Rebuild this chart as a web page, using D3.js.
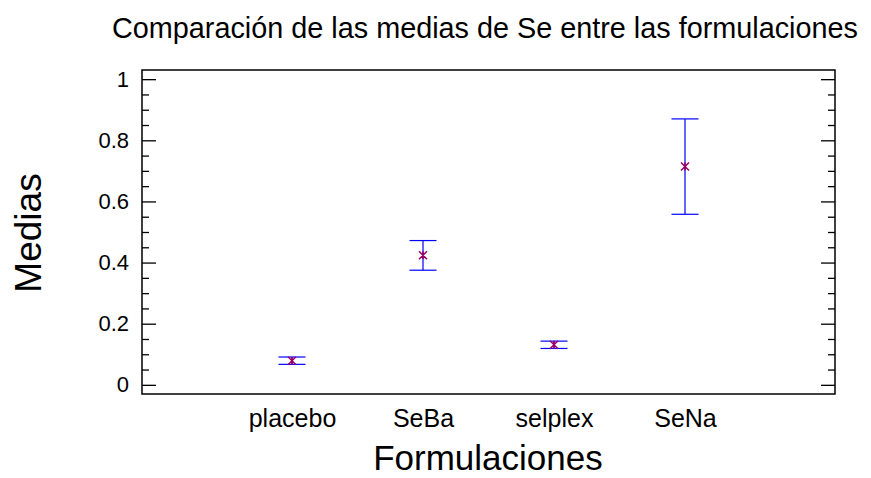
<!DOCTYPE html>
<html>
<head>
<meta charset="utf-8">
<script src="https://cdn.jsdelivr.net/npm/d3@7"></script>
<style>
  html, body { margin: 0; padding: 0; background: #fff; }
  svg { display: block; font-family: Arial, "Liberation Sans", sans-serif; }
</style>
</head>
<body>
<svg id="chart" width="871" height="478"></svg>
<script>
// Mean Se per formulation with its interval limits
const categories = ["placebo", "SeBa", "selplex", "SeNa"];
const means      = [0.079, 0.424, 0.131, 0.714];
const lowerLimit = [0.067, 0.375, 0.119, 0.558];
const upperLimit = [0.091, 0.472, 0.143, 0.870];
const yMajorTicks = [0, 0.2, 0.4, 0.6, 0.8, 1];
const yTickLabels = ["0", "0.2", "0.4", "0.6", "0.8", "1"];

const svg = d3.select("#chart");
const plot = { left: 142, top: 70, right: 835, bottom: 394 };

const x = d3.scaleLinear().domain([-1.145, 4.145]).range([plot.left, plot.right]);
const y = d3.scaleLinear().domain([-0.03, 1.03]).range([plot.bottom, plot.top]);

const yMinorTicks = d3.range(0, 1.0001, 0.05).filter(v => Math.abs(v * 5 - Math.round(v * 5)) > 1e-6);

// Left axis: major ticks with labels, minor ticks without
const leftMajor = svg.append("g")
  .attr("transform", `translate(${plot.left},0)`)
  .call(d3.axisLeft(y).tickValues(yMajorTicks)
    .tickFormat((d, i) => yTickLabels[i]).tickSize(-14).tickPadding(13));
leftMajor.select(".domain").remove();
leftMajor.selectAll("line").attr("stroke", "#000").attr("stroke-width", 1.3);
leftMajor.selectAll("text").attr("font-size", 22).attr("fill", "#000")
  .attr("font-family", "Arial, 'Liberation Sans', sans-serif");

const leftMinor = svg.append("g")
  .attr("transform", `translate(${plot.left},0)`)
  .call(d3.axisLeft(y).tickValues(yMinorTicks).tickFormat("").tickSize(-7));
leftMinor.select(".domain").remove();
leftMinor.selectAll("line").attr("stroke", "#000").attr("stroke-width", 1.3);

// Right axis mirrors the ticks, pointing inward
const rightMajor = svg.append("g")
  .attr("transform", `translate(${plot.right},0)`)
  .call(d3.axisRight(y).tickValues(yMajorTicks).tickFormat("").tickSize(-14));
rightMajor.select(".domain").remove();
rightMajor.selectAll("line").attr("stroke", "#000").attr("stroke-width", 1.3);

const rightMinor = svg.append("g")
  .attr("transform", `translate(${plot.right},0)`)
  .call(d3.axisRight(y).tickValues(yMinorTicks).tickFormat("").tickSize(-7));
rightMinor.select(".domain").remove();
rightMinor.selectAll("line").attr("stroke", "#000").attr("stroke-width", 1.3);

// Category labels along the bottom
const bottom = svg.append("g")
  .attr("transform", `translate(0,${plot.bottom})`)
  .call(d3.axisBottom(x).tickValues(d3.range(categories.length))
    .tickFormat(i => categories[i]).tickSize(0).tickPadding(15));
bottom.select(".domain").remove();
bottom.selectAll("text").attr("font-size", 25).attr("fill", "#000")
  .attr("font-family", "Arial, 'Liberation Sans', sans-serif");

// Plot frame
svg.append("rect")
  .attr("x", plot.left).attr("y", plot.top)
  .attr("width", plot.right - plot.left).attr("height", plot.bottom - plot.top)
  .attr("fill", "none").attr("stroke", "#000").attr("stroke-width", 1.5);

// Interval bars
const capHalf = 13.5;
const bars = svg.append("g").attr("stroke", "#0000ff").attr("stroke-width", 1.2).attr("fill", "none");
categories.forEach((c, i) => {
  const cx = x(i);
  bars.append("line").attr("x1", cx).attr("x2", cx).attr("y1", y(upperLimit[i])).attr("y2", y(lowerLimit[i]));
  bars.append("line").attr("x1", cx - capHalf).attr("x2", cx + capHalf).attr("y1", y(upperLimit[i])).attr("y2", y(upperLimit[i]));
  bars.append("line").attr("x1", cx - capHalf).attr("x2", cx + capHalf).attr("y1", y(lowerLimit[i])).attr("y2", y(lowerLimit[i]));
});

// Mean markers (asterisk)
const m = 4;
const markers = svg.append("g").attr("stroke", "#990066").attr("stroke-width", 1.5).attr("fill", "none");
means.forEach((v, i) => {
  const cx = x(i), cy = y(v);
  markers.append("path")
    .attr("d", `M${cx - m},${cy - m}L${cx + m},${cy + m}M${cx - m},${cy + m}L${cx + m},${cy - m}M${cx},${cy - m}L${cx},${cy + m}`);
});

// Titles
svg.append("text")
  .attr("x", 485).attr("y", 38)
  .attr("text-anchor", "middle").attr("font-size", 28.8).attr("fill", "#000")
  .text("Comparación de las medias de Se entre las formulaciones");

svg.append("text")
  .attr("x", 488).attr("y", 470)
  .attr("text-anchor", "middle").attr("font-size", 35).attr("fill", "#000")
  .text("Formulaciones");

svg.append("text")
  .attr("transform", "translate(41,233) rotate(-90)")
  .attr("text-anchor", "middle").attr("font-size", 37).attr("fill", "#000")
  .text("Medias");
</script>
</body>
</html>
